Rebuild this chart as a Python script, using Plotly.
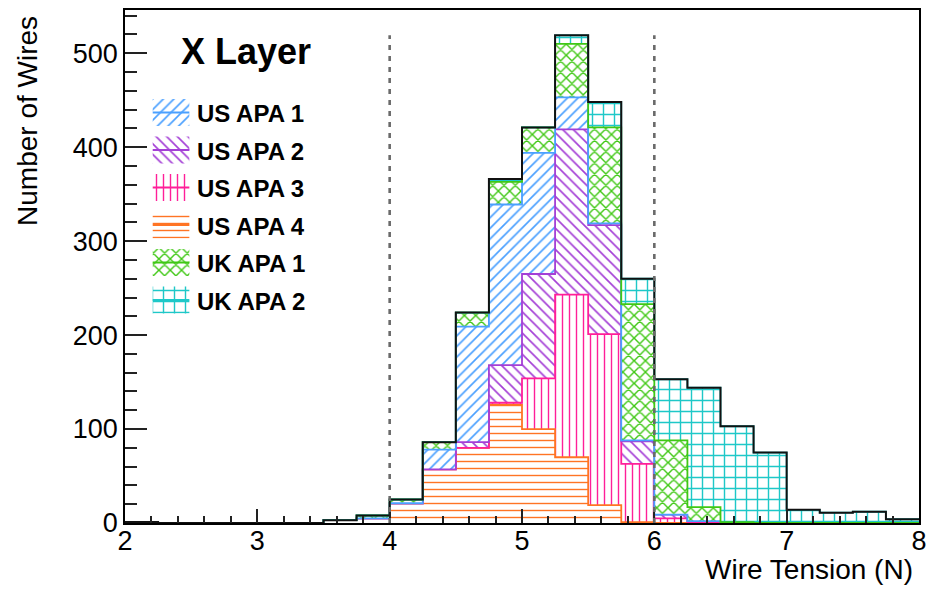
import numpy as np
import plotly.graph_objects as go

# Wire tension histogram: 0.25 N bins from 2 to 8 N
bin_edges = [2.0 + 0.25 * i for i in range(25)]

# Counts per bin for each APA (stacking order: bottom to top)
us_apa_4 = [1, 0, 0, 0, 0, 0, 3, 5, 21, 57, 80, 126, 100, 70, 19, 1, 0, 0, 0, 0, 0, 0, 0, 0]
us_apa_3 = [0, 0, 0, 0, 0, 0, 0, 0, 0, 0, 0, 2, 54, 173, 182, 62, 5, 0, 0, 0, 0, 0, 0, 0]
us_apa_2 = [0, 0, 0, 0, 0, 0, 0, 0, 0, 0, 6, 40, 111, 176, 116, 24, 4, 2, 1, 0, 0, 0, 0, 0]
us_apa_1 = [0, 0, 0, 0, 0, 0, 0, 0, 0, 21, 123, 171, 129, 34, 2, 1, 0, 0, 0, 0, 0, 0, 0, 0]
uk_apa_1 = [0, 0, 0, 0, 0, 0, 0, 3, 4, 8, 15, 24, 27, 57, 102, 145, 79, 15, 0, 0, 0, 0, 0, 0]
uk_apa_2 = [0, 0, 0, 0, 0, 0, 0, 0, 0, 0, 0, 3, 0, 9, 27, 27, 65, 127, 102, 75, 14, 11, 12, 4]

# Tension limits marked with dashed lines
tension_limits = [4.0, 6.0]

x_ticks = [2, 3, 4, 5, 6, 7, 8]
y_ticks = [0, 100, 200, 300, 400, 500]

series = [
    # name, counts, colour, hatch, hatch size, solidity, legend row
    ("US APA 4", us_apa_4, "#ff7424", "-", 7, 0.2, 3),
    ("US APA 3", us_apa_3, "#ff1f99", "|", 7, 0.2, 2),
    ("US APA 2", us_apa_2, "#a43fd6", "\\", 7.5, 0.22, 1),
    ("US APA 1", us_apa_1, "#4aa0ff", "/", 7.5, 0.22, 0),
    ("UK APA 1", uk_apa_1, "#3fc814", "x", 8, 0.32, 4),
    ("UK APA 2", uk_apa_2, "#1ec8c8", "+", 11, 0.24, 5),
]

W, H = 934, 591
ML, MR, MT, MB = 125, 7, 10, 68
Y_MAX = 546


def px_x(px):
    return (px - ML) / (W - ML - MR)


def px_y(py):
    return 1 - (py - MT) / (H - MT - MB)


def step_xy(counts):
    # hv step outline across the bin edges
    return list(bin_edges), list(counts) + [counts[-1]]


font_family = "Liberation Sans, Arial, Helvetica, sans-serif"

fig = go.Figure()

cum = np.zeros(len(us_apa_4))
for i, (name, counts, color, shape, size, solidity, row) in enumerate(series):
    cum = cum + np.array(counts, dtype=float)
    xs, ys = step_xy(cum.tolist())
    fig.add_trace(go.Scatter(
        x=xs, y=ys, mode="lines", name=name,
        line=dict(color=color, width=1.8, shape="hv"),
        fill="tozeroy" if i == 0 else "tonexty",
        fillcolor="white",
        fillpattern=dict(shape=shape, fgcolor=color, bgcolor="white",
                         size=size, solidity=solidity, fillmode="replace"),
        showlegend=False, hoverinfo="skip",
    ))

# total outline
xs, ys = step_xy(cum.tolist())
fig.add_trace(go.Scatter(
    x=xs, y=ys, mode="lines", line=dict(color="#111", width=2, shape="hv"),
    showlegend=False, hoverinfo="skip",
))

peak = float(cum.max())
for lim in tension_limits:
    fig.add_shape(type="line", x0=lim, x1=lim, y0=0, y1=peak, xref="x", yref="y",
                  line=dict(color="#6a6a6a", width=2.6, dash="5px,6px"), layer="above")

# Legend: hatched swatch with a centre line, drawn on a pixel-unit overlay axis
SW_X0, SW_X1 = 153, 190
ROW0, ROW_STEP, SW_H = 99, 37.5, 27
for name, counts, color, shape, size, solidity, row in series:
    top = ROW0 + row * ROW_STEP
    mid = top + SW_H / 2
    fig.add_trace(go.Scatter(
        x=[SW_X0, SW_X1, SW_X1, SW_X0, SW_X0], y=[top, top, top + SW_H, top + SW_H, top],
        xaxis="x2", yaxis="y2", mode="lines", line=dict(width=0, color=color),
        fill="toself", fillcolor="white",
        fillpattern=dict(shape=shape, fgcolor=color, bgcolor="white",
                         size=size, solidity=solidity, fillmode="replace"),
        showlegend=False, hoverinfo="skip",
    ))
    fig.add_trace(go.Scatter(
        x=[SW_X0, SW_X1], y=[mid, mid], xaxis="x2", yaxis="y2", mode="lines",
        line=dict(width=2, color=color), showlegend=False, hoverinfo="skip",
    ))
    fig.add_annotation(text="<b>%s</b>" % name, xref="paper", yref="paper",
                       x=px_x(196), y=px_y(mid + 1), xanchor="left", yanchor="middle",
                       showarrow=False,
                       font=dict(family=font_family, size=24, color="black"))

fig.add_annotation(text="<b>X Layer</b>", xref="paper", yref="paper",
                   x=px_x(180), y=px_y(51), xanchor="left", yanchor="middle",
                   showarrow=False, font=dict(family=font_family, size=36, color="black"))
fig.add_annotation(text="Number of Wires", xref="paper", yref="paper",
                   x=px_x(26), y=px_y(14), xanchor="center", yanchor="top", textangle=-90,
                   showarrow=False, font=dict(family=font_family, size=28, color="black"))
fig.add_annotation(text="Wire Tension (N)", xref="paper", yref="paper",
                   x=px_x(923), y=px_y(569), xanchor="right", yanchor="middle",
                   showarrow=False, font=dict(family=font_family, size=28, color="black"))

fig.update_layout(
    width=W, height=H, autosize=False,
    margin=dict(l=ML, r=MR, t=MT, b=MB),
    paper_bgcolor="white", plot_bgcolor="white",
    font=dict(family=font_family, color="black"),
    showlegend=False,
    xaxis=dict(range=[2, 8], tickvals=x_ticks, ticktext=[str(v) for v in x_ticks],
               ticks="inside", ticklen=14, tickwidth=1.5, tickcolor="#222",
               minor=dict(dtick=0.2, ticks="inside", ticklen=7, tickwidth=1.5, tickcolor="#222"),
               showline=True, linecolor="black", linewidth=1.5, mirror=True,
               showgrid=False, zeroline=False, ticklabelstandoff=-7,
               tickfont=dict(family=font_family, size=27, color="black")),
    yaxis=dict(range=[0, Y_MAX], tickvals=y_ticks, ticktext=[str(v) for v in y_ticks],
               ticks="inside", ticklen=22, tickwidth=1.5, tickcolor="#222",
               minor=dict(dtick=20, ticks="inside", ticklen=12, tickwidth=1.5, tickcolor="#222"),
               showline=True, linecolor="black", linewidth=1.5, mirror=True,
               showgrid=False, zeroline=False,
               tickfont=dict(family=font_family, size=27, color="black")),
    xaxis2=dict(overlaying="x", range=[ML, W - MR], visible=False, fixedrange=True),
    yaxis2=dict(overlaying="y", range=[H - MB, MT], visible=False, fixedrange=True),
)

fig.write_html("out.html")
